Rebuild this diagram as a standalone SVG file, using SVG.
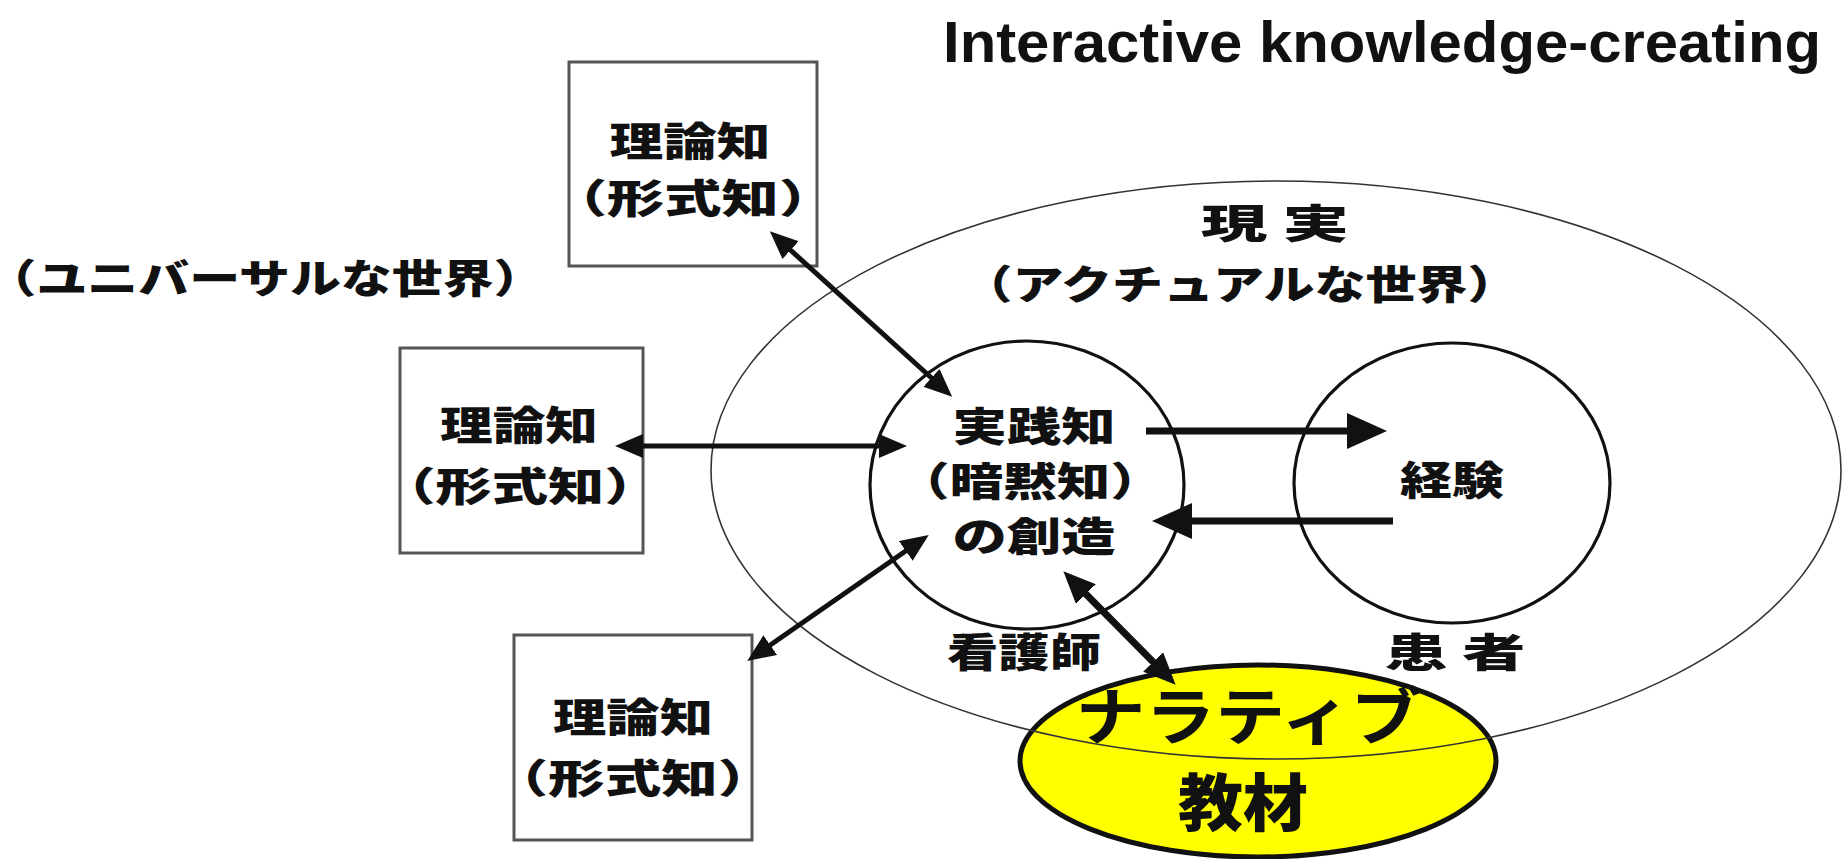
<svg xmlns="http://www.w3.org/2000/svg" width="1843" height="859" viewBox="0 0 1843 859">
<style>
.jp{font-family:"Noto Sans CJK JP","Noto Sans CJK SC",sans-serif;font-weight:900;font-size:40px;fill:#111;text-anchor:middle;dominant-baseline:central;font-feature-settings:"halt"}
.box{fill:#fff;stroke:#555;stroke-width:3}
.circ{fill:#fff;stroke:#111;stroke-width:3.2}
.ar{stroke:#111;stroke-width:5;fill:none}
.arT{stroke:#111;stroke-width:7;fill:none}
</style>
<defs>
<marker id="hd" markerUnits="userSpaceOnUse" markerWidth="28" markerHeight="24" refX="21" refY="12" orient="auto-start-reverse"><path d="M0,0 L28,12 L0,24 z" fill="#111"/></marker>
<marker id="hdL" markerUnits="userSpaceOnUse" markerWidth="40" markerHeight="36" refX="31" refY="18" orient="auto-start-reverse"><path d="M0,0 L40,18 L0,36 z" fill="#111"/></marker>
<marker id="hdM" markerUnits="userSpaceOnUse" markerWidth="32" markerHeight="28" refX="24" refY="14" orient="auto-start-reverse"><path d="M0,0 L32,14 L0,28 z" fill="#111"/></marker>
</defs>
<rect width="1843" height="859" fill="#fff"/>
<text x="943" y="62" font-family="Liberation Sans, Arial, sans-serif" font-weight="700" font-size="58" fill="#111" textLength="878" lengthAdjust="spacingAndGlyphs">Interactive knowledge-creating</text>
<g id="universal-label"><text class="jp" x="265" y="276" textLength="508" lengthAdjust="spacingAndGlyphs">（ユニバーサルな世界）</text></g>
<g id="narrative">
<ellipse cx="1258" cy="761" rx="238" ry="96" fill="#ffff00" stroke="#111" stroke-width="5"/>
</g>
<g id="reality">
<ellipse cx="1276" cy="470" rx="565" ry="289" fill="none" stroke="#333" stroke-width="1.6"/>
<text class="jp" x="1275" y="221" textLength="148" lengthAdjust="spacingAndGlyphs">現 実</text>
<text class="jp" x="1240" y="282" textLength="506" lengthAdjust="spacingAndGlyphs">（アクチュアルな世界）</text>
</g>
<g id="narrative-text">
<text class="jp" x="1248" y="713" textLength="345" lengthAdjust="spacingAndGlyphs" style="font-size:62px;font-weight:700">ナラティブ</text>
<text class="jp" x="1243" y="799" textLength="130" lengthAdjust="spacingAndGlyphs" style="font-size:62px;font-weight:900">教材</text>
</g>
<g id="box-top">
<rect class="box" x="569" y="62" width="248" height="204"/>
<text class="jp" x="690" y="139" textLength="161" lengthAdjust="spacingAndGlyphs">理論知</text>
<text class="jp" x="693" y="196" textLength="229" lengthAdjust="spacingAndGlyphs">（形式知）</text>
</g>
<g id="box-middle">
<rect class="box" x="400" y="348" width="243" height="205"/>
<text class="jp" x="519" y="423" textLength="158" lengthAdjust="spacingAndGlyphs">理論知</text>
<text class="jp" x="520" y="484" textLength="225" lengthAdjust="spacingAndGlyphs">（形式知）</text>
</g>
<g id="box-bottom">
<rect class="box" x="514" y="635" width="238" height="205"/>
<text class="jp" x="633" y="715" textLength="160" lengthAdjust="spacingAndGlyphs">理論知</text>
<text class="jp" x="633" y="776" textLength="226" lengthAdjust="spacingAndGlyphs">（形式知）</text>
</g>
<g id="practical">
<ellipse class="circ" cx="1027" cy="485" rx="157" ry="144"/>
<text class="jp" x="1034" y="424" textLength="163" lengthAdjust="spacingAndGlyphs">実践知</text>
<text class="jp" x="1030" y="479" textLength="214" lengthAdjust="spacingAndGlyphs">（暗黙知）</text>
<text class="jp" x="1034" y="534" textLength="163" lengthAdjust="spacingAndGlyphs">の創造</text>
</g>
<g id="experience">
<ellipse class="circ" cx="1452" cy="483" rx="158" ry="140"/>
<text class="jp" x="1452" y="478" textLength="104" lengthAdjust="spacingAndGlyphs">経験</text>
</g>
<g id="nurse-label"><text class="jp" x="1024" y="650" textLength="154" lengthAdjust="spacingAndGlyphs">看護師</text></g>
<g id="patient-label"><text class="jp" x="1455" y="650" textLength="141" lengthAdjust="spacingAndGlyphs">患 者</text></g>
<g id="connectors">
<line class="ar" x1="622" y1="446" x2="900" y2="446" marker-start="url(#hd)" marker-end="url(#hd)"/>
<line class="ar" x1="775" y1="236" x2="947" y2="392" marker-start="url(#hd)" marker-end="url(#hd)"/>
<line class="ar" x1="753" y1="657" x2="923" y2="539" marker-start="url(#hd)" marker-end="url(#hd)"/>
<line class="arT" x1="1069" y1="577" x2="1170" y2="679" marker-start="url(#hdM)" marker-end="url(#hdM)"/>
<line class="arT" x1="1146" y1="431" x2="1378" y2="431" marker-end="url(#hdL)"/>
<line class="arT" x1="1393" y1="521" x2="1161" y2="521" marker-end="url(#hdL)"/>
</g>
</svg>
